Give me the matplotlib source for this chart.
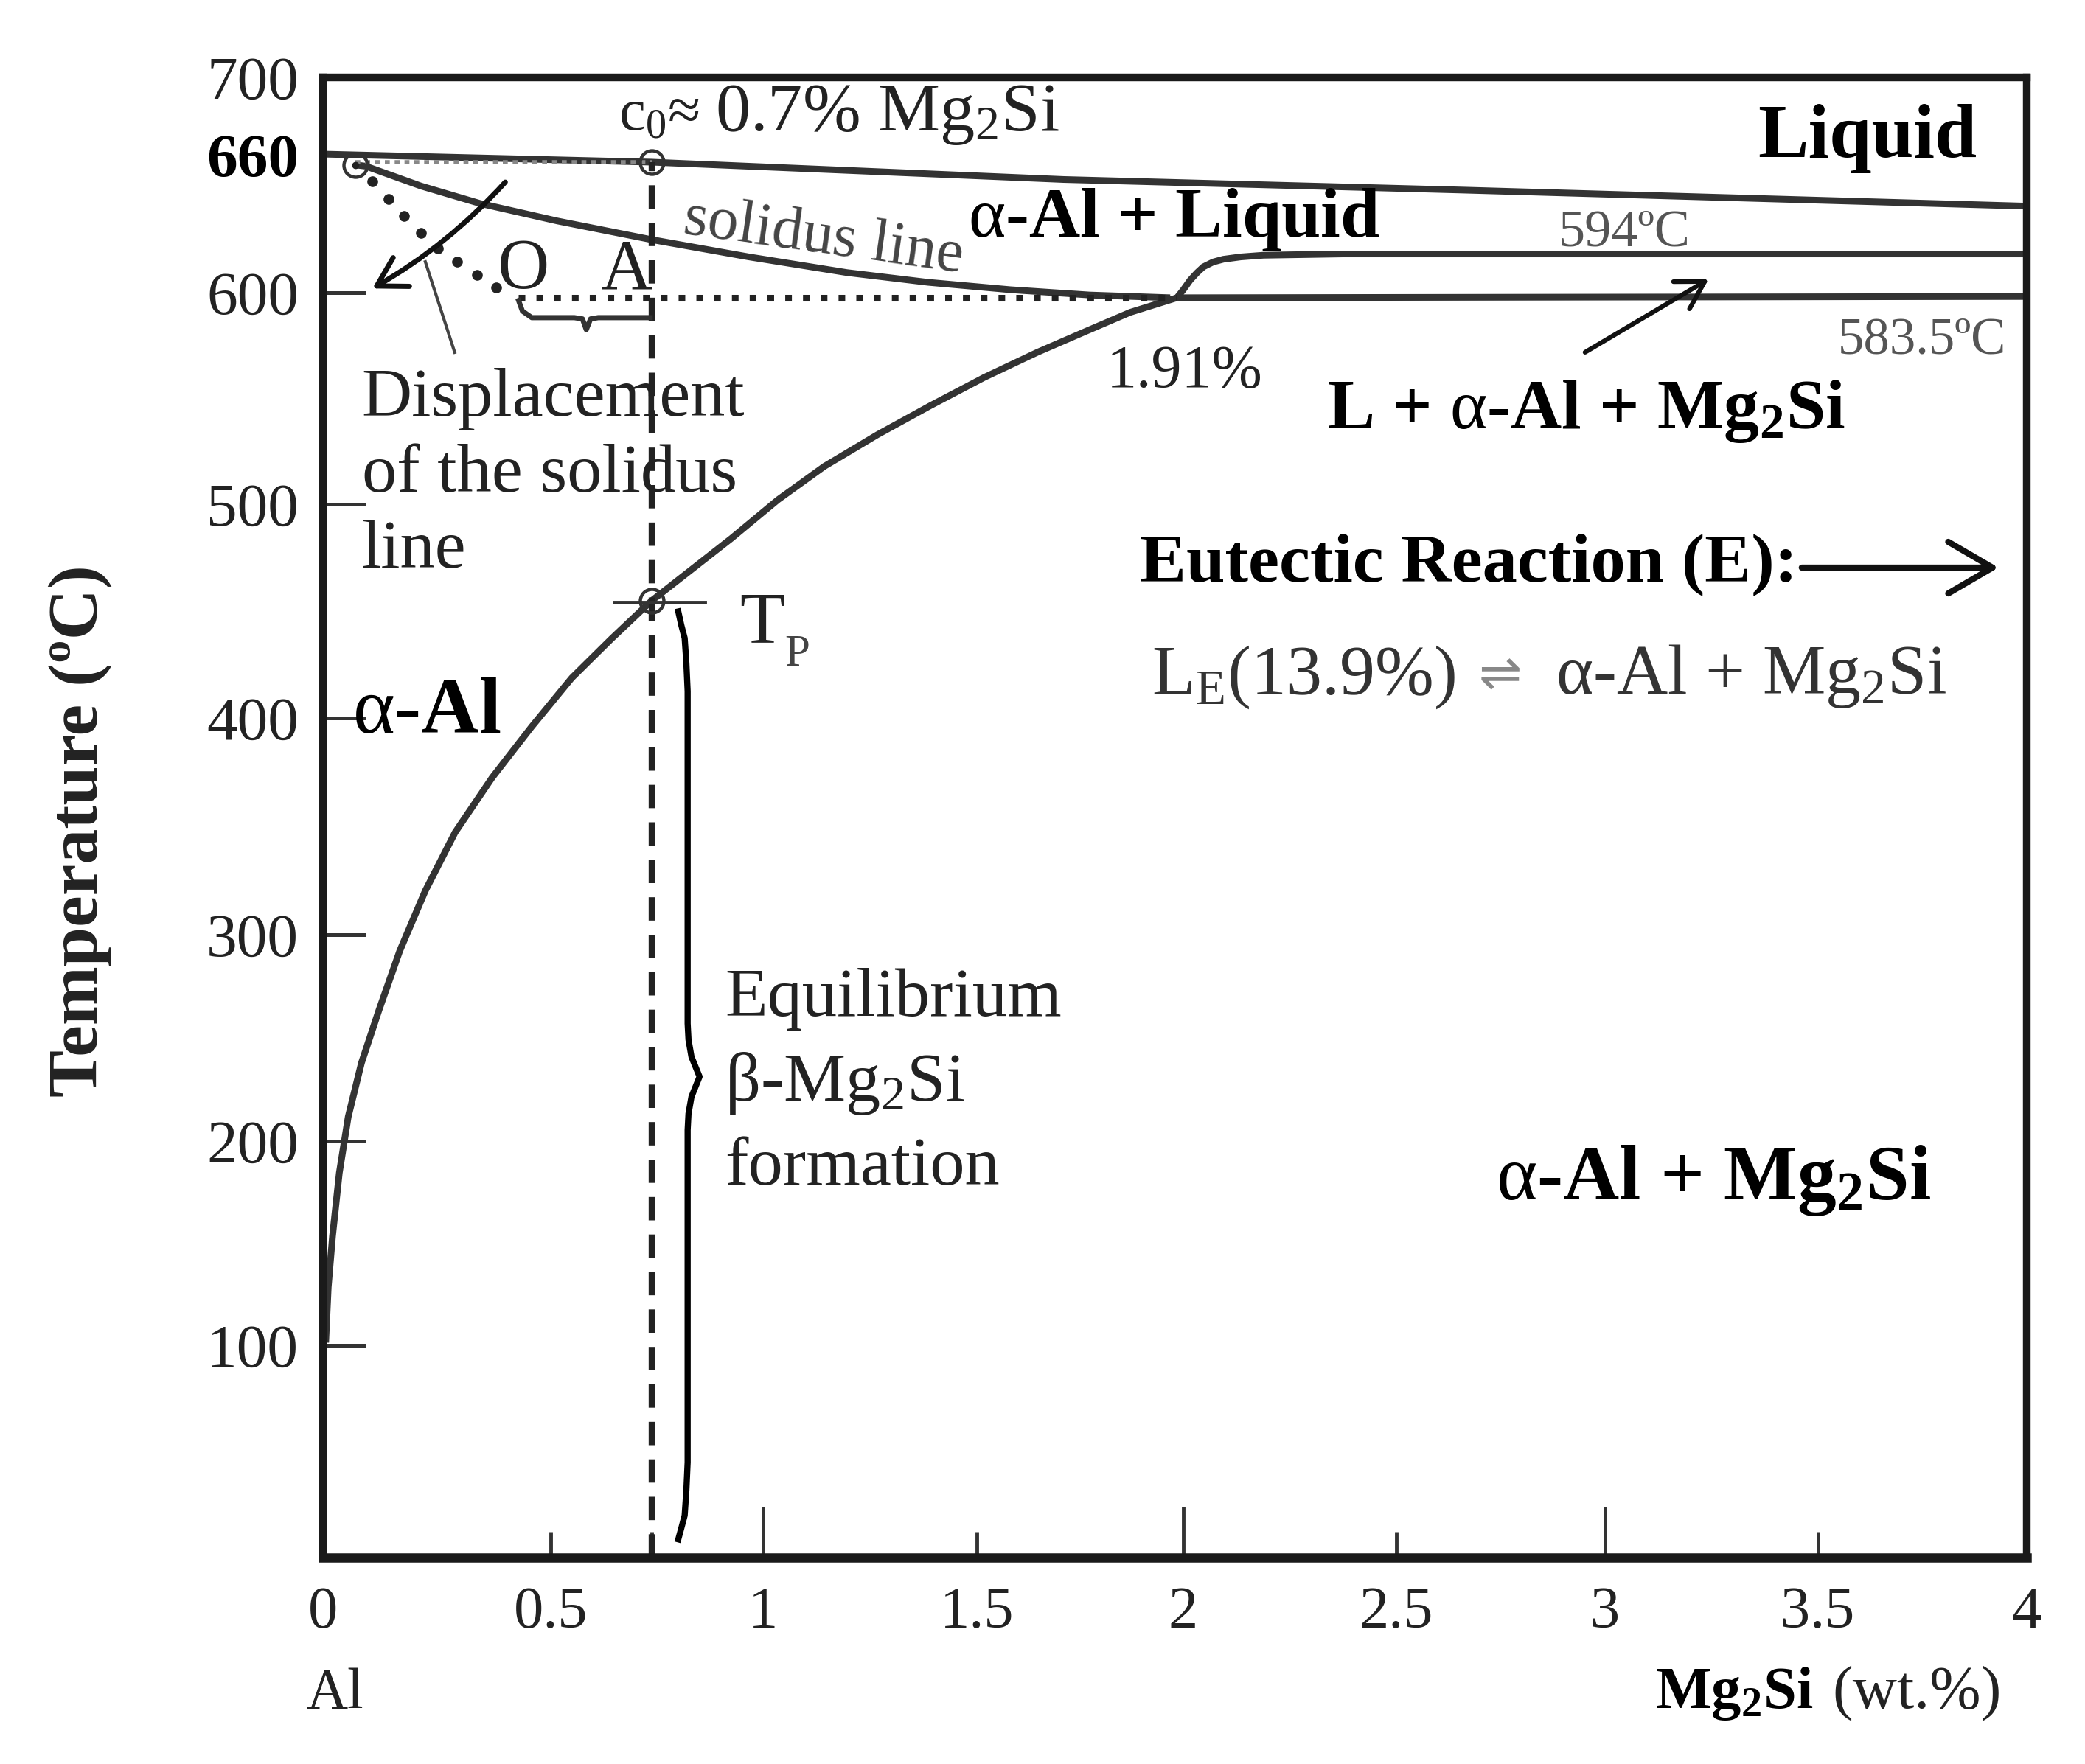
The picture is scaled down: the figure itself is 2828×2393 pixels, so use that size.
import matplotlib
matplotlib.use("Agg")
import matplotlib.pyplot as plt

plt.rcParams['font.family'] = ['Liberation Serif', 'DejaVu Sans']
plt.rcParams['mathtext.fontset'] = 'custom'
plt.rcParams['mathtext.rm'] = 'Liberation Serif'
plt.rcParams['mathtext.default'] = 'regular'

# tick places (the original axis is a bit uneven)
x_ticks = [0, 0.534, 0.771, 1.034, 1.536, 2.02, 2.52, 3.01, 3.51, 4.0]
x_labels = ['0', '0.5', '', '1', '1.5', '2', '2.5', '3', '3.5', '4']
x_tick_len = [0, 35, 35, 69, 35, 69, 35, 69, 35, 0]
y_ticks = [100.5, 197, 294.6, 397, 498, 598, 663, 700]
y_labels = ['100', '200', '300', '400', '500', '600', '660', '700']
y_tick_len = [58, 58, 58, 58, 58, 58, 0, 0]

liquidus_x = [0, 0.771, 1.739, 2.676, 4]
liquidus_y = [663.6, 659.8, 651.6, 646.6, 639]
solidus_x = [0.075, 0.1, 0.23, 0.368, 0.55, 0.768, 1.0, 1.23, 1.42, 1.614, 1.8, 1.989]
solidus_y = [658.5, 657.9, 648.5, 640.3, 632, 623.3, 615, 607.6, 603, 599.5, 597, 595.7]
solvus_x = [0.006, 0.012, 0.022, 0.038, 0.059, 0.09, 0.131, 0.18, 0.24, 0.31, 0.397, 0.49, 0.584, 0.677, 0.771,
            0.959, 1.068, 1.177, 1.302, 1.427, 1.552, 1.677, 1.786, 1.895, 2.005]
solvus_y = [101.8, 128, 152, 182, 208.6, 234, 258.9, 287, 315.4, 343, 368.9, 393, 416, 434.5, 452.4,
            482, 500.2, 516, 531, 544.8, 558, 569.9, 579.4, 588.8, 595.7]
upper_x = [2.005, 2.02, 2.036, 2.052, 2.067, 2.09, 2.114, 2.155, 2.208, 2.395, 4]
upper_y = [595.7, 599.5, 604, 607.5, 610.3, 612.6, 613.9, 615, 615.8, 616.4, 616.4]
eutectic_x = [2.005, 4]
eutectic_y = [595.7, 596.3]

dots_x = [0.116, 0.153, 0.190, 0.23, 0.27, 0.315, 0.362, 0.407]
dots_y = [650.6, 642.4, 634.2, 626.4, 619, 612.9, 606.4, 600.7]
brace_big_x = [0.834, 0.841, 0.849, 0.853, 0.856, 0.856, 0.858, 0.865, 0.884, 0.865, 0.858,
               0.856, 0.856, 0.853, 0.849, 0.841, 0.834]
brace_big_y = [447.4, 441, 434.8, 423, 409.7, 252.6, 245, 236.9, 227.5, 218, 210,
               202.3, 45.2, 32, 20.1, 14, 8.8]
brace_small_x = [0.459, 0.468, 0.49, 0.59, 0.609, 0.618, 0.628, 0.646, 0.768]
brace_small_y = [594.4, 589.4, 586.3, 586.3, 585.7, 580.6, 585.7, 586.3, 586.3]
c0 = 0.771

dark = '#222222'
line_c = '#333333'
ALPHA = r'$\mathrm{\alpha}$'

fig = plt.figure(figsize=(28.28, 23.93), dpi=100)
W, H = 1568.0, 1327.0


def fx(x):
    return x / W


def fy(y):
    return 1 - y / H


ax = fig.add_axes([fx(243), fy(1172), (1524 - 243) / W, (1172 - 58) / H])
ax.set_xlim(0, 4)
ax.set_ylim(0, 700)
for s in ax.spines.values():
    s.set_linewidth(7.5)
    s.set_color('#1a1a1a')
ax.spines['bottom'].set_linewidth(9)

ax.set_xticks(x_ticks)
ax.set_xticklabels(x_labels, fontsize=58, color=dark)
ax.set_yticks(y_ticks)
ax.set_yticklabels(y_labels, fontsize=60, color=dark)
ax.tick_params(axis='x', direction='in', width=3.5, color=line_c, pad=28)
ax.tick_params(axis='y', direction='in', width=3.6, color=line_c, pad=24)
for t, n in zip(ax.xaxis.get_major_ticks(), x_tick_len):
    t.tick1line.set_markersize(n * 0.72)
for t, n in zip(ax.yaxis.get_major_ticks(), y_tick_len):
    t.tick1line.set_markersize(n * 0.72)
ax.get_yticklabels()[6].set_fontweight('bold')
ax.get_yticklabels()[6].set_color('black')

ax.set_ylabel('Temperature (ºC)', fontsize=69, fontweight='bold', color=dark)
ax.yaxis.set_label_coords(-0.124, 0.491)

# phase boundaries
for xs, ys in [(liquidus_x, liquidus_y), (solidus_x, solidus_y), (solvus_x, solvus_y),
               (upper_x, upper_y), (eutectic_x, eutectic_y)]:
    ax.plot(xs, ys, color=line_c, lw=6.5, solid_capstyle='butt', solid_joinstyle='round')

ax.plot([0.075, c0], [659.8, 659.8], color='#888888', lw=4, ls=(0, (1.2, 1.2)))
ax.plot([0.459, 2.005], [595.7, 595.7], color=dark, lw=6.5, ls=(0, (1, 1.67)))
ax.plot(dots_x, dots_y, ls='none', marker='o', ms=9.5, color=dark)
ax.plot([c0, c0], [0, 659.8], color=dark, lw=6, ls=(0, (3.8, 2.3)))

ax.plot([0.075, c0, c0], [658.5, 659.8, 452.4], ls='none', marker='o', ms=23, mfc='none',
        mec='#333333', mew=3.2)
ax.plot([0.075], [658.5], marker='o', ms=6, color=dark)
ax.plot([0.684, 0.896], [451.8, 451.8], color=line_c, lw=3.5)

ax.plot(brace_big_x, brace_big_y, color='black', lw=6)
ax.plot(brace_small_x, brace_small_y, color=line_c, lw=5)
ax.plot([0.24, 0.309], [612.7, 569.9], color='#444444', lw=3)


def label(x, y, s, size, weight='normal', color=dark, **kw):
    fig.text(fx(x), fy(y), s, fontsize=size, fontweight=weight, color=color,
             ha='left', va='baseline', **kw)


label(230, 1285, 'Al', 56)
label(1245, 1285, 'Mg$_2$Si', 58, 'bold', 'black')
label(1378, 1285, '(wt.%)', 60)
label(465, 98, 'c$_0$≈', 58)
label(538, 98, '0.7% Mg$_2$Si', 68)
label(1322, 118, 'Liquid', 74, 'bold', 'black')
label(728, 178, ALPHA + '-Al + Liquid', 69, 'bold', 'black')
label(1172, 185, '594ºC', 52, color='#555555')
label(1382, 266, '583.5ºC', 51, color='#555555')
label(832, 291, '1.91%', 59)
label(998, 322, 'L + ' + ALPHA + '-Al + Mg$_2$Si', 69, 'bold', 'black')
label(857, 437, 'Eutectic Reaction (E):', 68, 'bold', 'black')
label(866, 522, 'L$_E$(13.9%)', 69, color='#333333')
label(1170, 522, 'α-Al + Mg$_2$Si', 69, color='#333333')
label(1112, 519, '⇌', 50, color='#888888', family='DejaVu Sans')
label(556, 483, 'T', 72)
label(590, 501, 'P', 44, color='#444444')
label(265, 551, ALPHA + '-Al', 78, 'bold', 'black')
label(374, 217, 'O', 70)
label(452, 217, 'A', 70)
label(272, 313, 'Displacement', 68)
label(272, 370, 'of the solidus', 68)
label(272, 427, 'line', 68)
label(545, 764, 'Equilibrium', 68)
label(545, 828, 'β-Mg$_2$Si', 68)
label(545, 891, 'formation', 68)
label(1125, 902, ALPHA + '-Al + Mg$_2$Si', 76, 'bold', 'black')
fig.text(fx(513), fy(175), 'solidus line', fontsize=60, color='#444444', rotation=-8,
         rotation_mode='anchor', ha='left', va='baseline')


def arrow(x0, y0, x1, y1, lw, scale, rad=0.0):
    ax.annotate('', xy=(fx(x1), fy(y1)), xytext=(fx(x0), fy(y0)),
                xycoords='figure fraction', textcoords='figure fraction',
                arrowprops=dict(arrowstyle='->,head_length=0.6,head_width=0.35', lw=lw, color='#111111',
                                mutation_scale=scale, shrinkA=0, shrinkB=0,
                                connectionstyle='arc3,rad=%g' % rad))


arrow(1355, 427, 1503, 427, 6, 72)
arrow(1192, 265, 1285, 210, 4.5, 44)
arrow(380, 137, 280, 217, 5, 46, -0.08)

fig.savefig('out.png', dpi=100, facecolor='white')
